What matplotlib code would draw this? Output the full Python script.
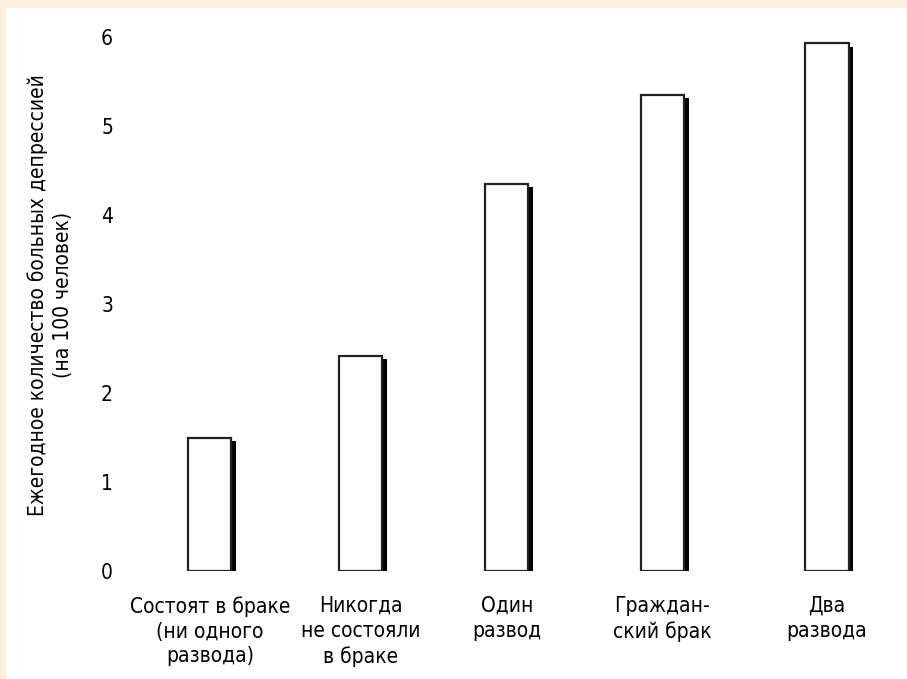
import matplotlib
matplotlib.use('Agg')
import matplotlib.pyplot as plt
from matplotlib.patches import Rectangle

# data
categories = ['Состоят в браке\n(ни одного\nразвода)',
              'Никогда\nне состояли\nв браке',
              'Один\nразвод',
              'Граждан-\nский брак',
              'Два\nразвода']
rates = [1.5, 2.42, 4.35, 5.35, 5.93]
y_ticks = [0, 1, 2, 3, 4, 5, 6]
y_title = 'Ежегодное количество больных депрессией\n(на 100 человек)'

# bar centres as placed in the original drawing (not quite evenly spaced)
x_pos = [0, 0.98, 1.93, 2.94, 4.01]

plt.rcParams['font.family'] = ['Liberation Sans Narrow', 'DejaVu Sans']
plt.rcParams['font.stretch'] = 'condensed'

fig = plt.figure(figsize=(9.07, 6.79), dpi=100)
fig.patch.set_facecolor('#fdf0da')
# white panel inside the beige frame
fig.patches.append(Rectangle((6 / 907, 0), 1, (679 - 8) / 679, transform=fig.transFigure,
                             facecolor='white', edgecolor='none', zorder=-5))

ax = fig.add_axes([120 / 907, (679 - 571) / 679, (907 - 120) / 907, (571 - 37) / 679])
ax.set_zorder(2)
ax.set_facecolor('none')

w = 0.28
sh = 0.04
# shadow on the right side of each bar
ax.bar([i + w / 2 + sh / 2 - 0.008 for i in x_pos], [r - 0.04 for r in rates], width=sh,
       color='black', zorder=2)
ax.bar(x_pos, rates, width=w, color='white', edgecolor='#222222', linewidth=1.6, zorder=3)

ax.set_xlim(-0.584, 4.53)
ax.set_ylim(0, 6)
ax.set_yticks(y_ticks)
ax.set_yticklabels([str(t) for t in y_ticks], fontsize=15)
ax.set_xticks(x_pos)
ax.set_xticklabels(categories, fontsize=15, linespacing=1.3)
ax.tick_params(axis='y', length=0, pad=5)
ax.tick_params(axis='x', length=0, pad=18)
for s in ax.spines.values():
    s.set_visible(False)

fig.text(50 / 907, 1 - 295 / 679, y_title, rotation=90, ha='center', va='center',
         fontsize=15, linespacing=1.3)

plt.savefig('out.png', dpi=100, facecolor=fig.get_facecolor())
